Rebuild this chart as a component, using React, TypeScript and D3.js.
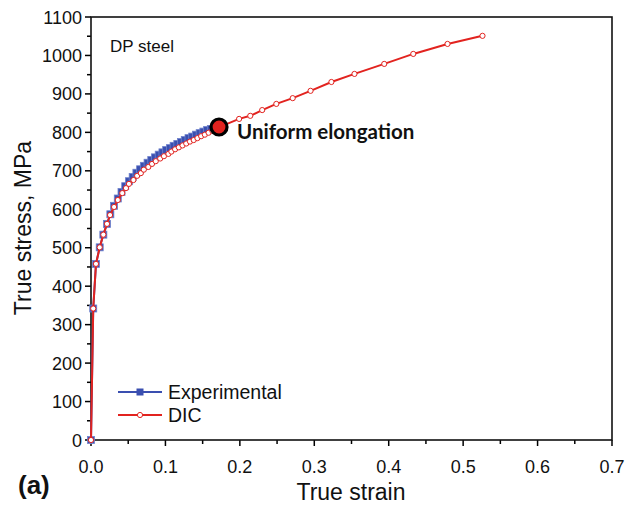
import React from "react";
import * as d3 from "d3";

const expStrain = [0, 0.003, 0.0067, 0.0117, 0.0166, 0.0215, 0.026, 0.031, 0.036, 0.041, 0.046, 0.051, 0.056, 0.061, 0.066, 0.071, 0.076, 0.081, 0.086, 0.091, 0.096, 0.101, 0.106, 0.111, 0.116, 0.121, 0.126, 0.131, 0.136, 0.141, 0.146, 0.151, 0.156, 0.161, 0.166, 0.17];
const expStress = [0, 342, 458, 501, 534, 562, 587, 609, 628, 645, 660, 673, 684, 695, 704, 713, 721, 728, 735, 742, 748, 754, 759, 765, 770, 775, 780, 785, 789, 794, 798, 802, 806, 809, 812, 815];

const dicStrain = [0, 0.003, 0.0067, 0.0117, 0.0166, 0.0215, 0.0256, 0.031, 0.036, 0.042, 0.047, 0.051, 0.057, 0.062, 0.067, 0.071, 0.077, 0.082, 0.087, 0.093, 0.098, 0.104, 0.108, 0.113, 0.118, 0.123, 0.128, 0.133, 0.138, 0.143, 0.148, 0.153, 0.158, 0.163, 0.168, 0.178, 0.199, 0.214, 0.23, 0.249, 0.271, 0.295, 0.323, 0.354, 0.394, 0.433, 0.479, 0.526];
const dicStress = [0, 342, 458, 501, 534, 562, 585, 606, 624, 642, 655, 666, 676, 687, 694, 703, 710, 718, 725, 732, 738, 744, 750, 756, 761, 766, 771, 776, 780, 785, 790, 794, 799, 804, 808, 818, 835, 843, 858, 874, 889, 908, 931, 952, 978, 1004, 1030, 1051];

const uniformPoint = { strain: 0.172, stress: 814 };

const xTicks = [0, 0.1, 0.2, 0.3, 0.4, 0.5, 0.6, 0.7];
const yTicks = [0, 100, 200, 300, 400, 500, 600, 700, 800, 900, 1000, 1100];

const BLUE = "#3a4fb0";
const RED = "#e2231f";

export default function App() {
  const left = 91, right = 612, top = 17, bottom = 440;
  const x = d3.scaleLinear().domain([0, 0.7]).range([left, right]);
  const y = d3.scaleLinear().domain([0, 1100]).range([bottom, top]);

  const expData = expStrain.map((s, i) => [s, expStress[i]] as [number, number]);
  const dicData = dicStrain.map((s, i) => [s, dicStress[i]] as [number, number]);
  const line = d3.line<[number, number]>().x(d => x(d[0])).y(d => y(d[1]));

  const xMinor = d3.range(0, 0.7001, 0.05);
  const yMinor = d3.range(0, 1100.1, 50);
  const font = "Liberation Sans, Arial, sans-serif";

  return (
    <svg width={639} height={510} style={{ position: "absolute", left: 0, top: 0, background: "#fff" }} fontFamily={font}>
      <rect x={0} y={0} width={639} height={510} fill="#fff" />
      {/* ticks */}
      {xMinor.map((t, i) => (
        <line key={"xm" + i} x1={x(t)} x2={x(t)} y1={bottom} y2={bottom + (i % 2 === 0 ? 6 : 4)} stroke="#000" strokeWidth={1.5} />
      ))}
      {yMinor.map((t, i) => (
        <line key={"ym" + i} x1={left} x2={left - (i % 2 === 0 ? 6 : 4)} y1={y(t)} y2={y(t)} stroke="#000" strokeWidth={1.5} />
      ))}
      {xTicks.map(t => (
        <text key={"xt" + t} x={x(t)} y={473} textAnchor="middle" fontSize={18} fill="#111">{t.toFixed(1)}</text>
      ))}
      {yTicks.map(t => (
        <text key={"yt" + t} x={82} y={y(t) + 6.5} textAnchor="end" fontSize={18} fill="#111">{t}</text>
      ))}
      <rect x={left} y={top} width={right - left} height={bottom - top} fill="none" stroke="#111" strokeWidth={1.6} />

      {/* experimental */}
      <path d={line(expData) || ""} fill="none" stroke={BLUE} strokeWidth={2} />
      {expData.map((d, i) => (
        <rect key={"e" + i} x={x(d[0]) - 3.5} y={y(d[1]) - 3.5} width={7} height={7} fill={BLUE} stroke="#6f82cc" strokeWidth={0.8} />
      ))}
      {/* DIC */}
      <path d={line(dicData) || ""} fill="none" stroke={RED} strokeWidth={2} />
      {dicData.map((d, i) => (
        <circle key={"d" + i} cx={x(d[0])} cy={y(d[1])} r={2.6} fill="#fff" stroke={RED} strokeWidth={1} />
      ))}

      {/* uniform elongation marker */}
      <circle cx={x(uniformPoint.strain)} cy={y(uniformPoint.stress)} r={8} fill={RED} stroke="#000" strokeWidth={3.2} />
      <text x={237} y={139} fontFamily="Lato, 'Open Sans', sans-serif" fontWeight="bold" fontSize={20.5} fill="#111">Uniform elongation</text>

      <text x={110} y={52} fontSize={17} fill="#111">DP steel</text>

      {/* legend */}
      <line x1={118} x2={162} y1={392} y2={392} stroke={BLUE} strokeWidth={2} />
      <rect x={136.5} y={388.5} width={7} height={7} fill={BLUE} />
      <text x={168} y={399} fontSize={19.5} fill="#111">Experimental</text>
      <line x1={118} x2={162} y1={415} y2={415} stroke={RED} strokeWidth={2} />
      <circle cx={140} cy={415} r={2.6} fill="#fff" stroke={RED} strokeWidth={1} />
      <text x={168} y={422} fontSize={19.5} fill="#111">DIC</text>

      {/* axis titles */}
      <text x={351} y={500} textAnchor="middle" fontSize={23} fill="#111">True strain</text>
      <text transform="translate(31,228) rotate(-90)" textAnchor="middle" fontSize={23} fill="#111">True stress, MPa</text>
      <text x={18} y={494} fontSize={26} fontWeight="bold" fill="#111">(a)</text>
    </svg>
  );
}
